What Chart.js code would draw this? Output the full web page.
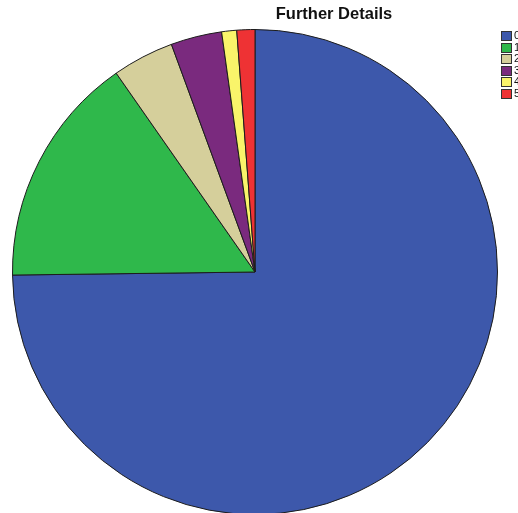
<!DOCTYPE html>
<html>
<head>
<meta charset="utf-8">
<script src="https://cdn.jsdelivr.net/npm/chart.js@4/dist/chart.umd.min.js"></script>
<style>
  html, body { margin: 0; padding: 0; background: #fff; overflow: hidden; }
  #wrap { position: relative; width: 518px; height: 540px; }
</style>
</head>
<body>
<div id="wrap"><canvas id="pie"></canvas></div>
<script>
// share of cases in each category (percent)
const categories = ['0', '1', '2', '3', '4', '5'];
const shares = [74.8, 15.5, 4.1, 3.4, 1.0, 1.2];
const sliceColors = ['#3d58ab', '#2fb84b', '#d5cf9b', '#7a2a7e', '#f9f46a', '#ee3234'];
const chartTitle = 'Further Details';

// title sits right of centre, legend hangs off the right edge
const titleAndLegend = {
    id: 'titleAndLegend',
    afterDraw(chart) {
        const ctx = chart.ctx;
        ctx.save();
        ctx.fillStyle = '#111';
        ctx.font = 'bold 16.5px "Liberation Sans", Arial, sans-serif';
        ctx.textAlign = 'center';
        ctx.textBaseline = 'middle';
        ctx.fillText(chartTitle, 334, 14);

        ctx.font = '11px "Liberation Sans", Arial, sans-serif';
        ctx.textAlign = 'left';
        const colors = chart.data.datasets[0].backgroundColor;
        chart.data.labels.forEach((label, i) => {
            const y = Math.round(31 + i * 11.6);
            ctx.fillStyle = colors[i];
            ctx.fillRect(501, y, 11, 10);
            ctx.strokeStyle = '#333';
            ctx.lineWidth = 1;
            ctx.strokeRect(501.5, y + 0.5, 10, 9);
            ctx.fillStyle = '#111';
            ctx.fillText(label, 514, y + 5);
        });
        ctx.restore();
    }
};

const ctx = document.getElementById('pie').getContext('2d');
new Chart(ctx, {
    type: 'pie',
    data: {
        labels: categories,
        datasets: [{
            data: shares,
            backgroundColor: sliceColors,
            borderColor: '#1c1c1c',
            borderWidth: 1
        }]
    },
    options: {
        responsive: true,
        maintainAspectRatio: false,
        animation: false,
        layout: { padding: { left: 12, top: 29, right: 20, bottom: 25 } },
        plugins: {
            legend: { display: false },
            tooltip: { enabled: false }
        }
    },
    plugins: [titleAndLegend]
});
</script>
</body>
</html>
